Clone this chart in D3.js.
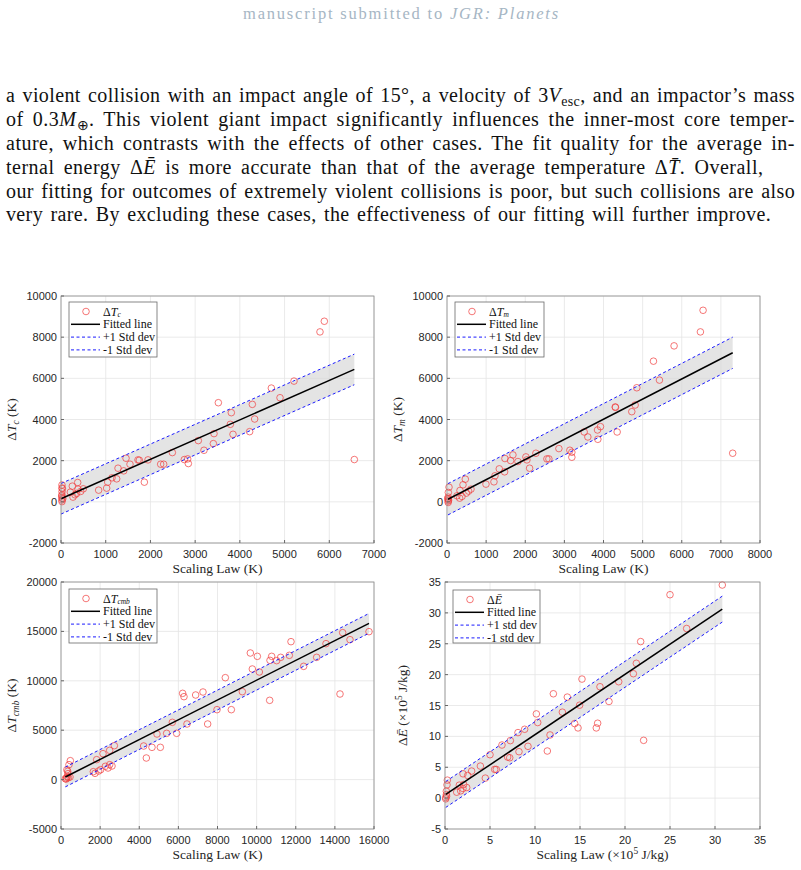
<!DOCTYPE html>
<html><head><meta charset="utf-8">
<script src="https://cdn.jsdelivr.net/npm/d3@7"></script>
<style>
html,body{margin:0;padding:0;background:#fff;}
svg{display:block;}
</style></head>
<body>
<svg id="c" width="801" height="870"></svg>
<script>
// ---------------- DATA ----------------
const tcPoints = [[5792,8256],[5889,8773],[6560,2054],[5211,5866],[4704,5526],[4898,5058],[4279,4735],[4331,4024],[4219,3410],[3519,4816],[3809,4331],[3787,3766],[3847,3281],[3422,3314],[3407,2829],[3071,2975],[3198,2506],[2758,2054],[2833,2086],[2848,1860],[2490,2393],[2229,1828],[2296,1828],[1946,2038],[1722,2038],[1752,2022],[1543,1828],[1454,2119],[1275,1634],[1402,1505],[1245,1117],[1141,1166],[1044,956],[1021,665],[842,568],[1864,956],[499,633],[440,504],[373,940],[253,762],[209,471],[268,229],[313,342],[350,407],[380,617],[22,818],[22,672],[22,494],[22,333],[22,187],[22,89],[22,10],[30,640],[15,280],[40,150]];
const tmPoints = [[6545,9306],[6477,8256],[5804,7577],[5277,6834],[5430,5914],[4851,5542],[4809,4703],[4723,4380],[4306,4590],[4300,4610],[4349,3394],[3923,3653],[3847,3491],[3855,3039],[3600,3152],[3506,3394],[3191,2409],[3191,2167],[3140,2506],[2860,2587],[2604,2086],[2553,2086],[2272,2361],[2017,2183],[2043,2038],[2111,1634],[1813,1957],[1685,2280],[1626,2005],[1481,2103],[1472,1457],[1336,1602],[1226,1263],[1200,972],[996,859],[613,617],[553,520],[468,1101],[409,827],[332,552],[383,261],[323,180],[255,293],[494,423],[51,713],[34,455],[30,132],[30,35],[30,-30],[30,229],[40,80],[20,160],[7302,2361]];
const tcmbPoints = [[15744,14973],[14398,14872],[14773,14163],[13546,13758],[11757,13961],[11672,12577],[13069,12375],[12404,11464],[11229,12375],[11024,12038],[10769,12476],[10684,12072],[10036,12476],[9678,12814],[9780,11194],[10138,10891],[8400,10317],[9269,8900],[7258,8866],[6883,8563],[6218,8731],[6287,8394],[14262,8664],[10667,8023],[7974,7078],[8707,7078],[5691,5796],[6441,5628],[7497,5628],[4907,4615],[5401,4683],[5912,4683],[4226,3401],[4651,3266],[5078,3266],[4362,2186],[2726,3435],[2488,2962],[2147,2625],[1823,2018],[1925,870],[1738,634],[1653,803],[2028,1005],[2266,1343],[2403,1174],[2488,1512],[2607,1377],[477,1916],[409,1512],[341,837],[358,600],[290,162],[221,95],[460,263],[320,300],[260,50],[380,200],[300,1000]];
const ePoints = [[30.81,34.51],[25.0,32.94],[26.85,27.47],[21.74,25.35],[21.26,21.83],[20.93,20.15],[22.07,9.36],[19.30,18.85],[17.22,18.04],[18.22,15.65],[15.22,19.28],[14.96,15.05],[13.59,16.36],[13.04,13.92],[14.41,12.07],[14.78,11.37],[16.96,12.13],[16.81,11.37],[12.04,16.90],[10.15,13.64],[10.30,12.24],[11.67,10.23],[11.37,7.63],[8.85,11.15],[8.11,10.61],[7.26,9.31],[6.33,8.60],[5.0,7.03],[9.22,8.39],[8.22,7.52],[6.96,6.65],[7.19,6.54],[3.93,5.19],[2.96,4.38],[2.0,3.94],[2.52,3.67],[4.48,3.24],[5.52,4.65],[5.70,4.65],[2.07,2.21],[2.41,1.72],[1.59,2.10],[1.30,0.96],[1.74,1.18],[2.0,1.56],[0.26,2.91],[0.22,2.15],[0.15,1.12],[0.15,0.58],[0.08,0.09],[0.08,-0.12],[0.18,0.31]];

// fitted line parameters: [intercept, slope, std, xStart, xEnd]
const tcFit = [148, 0.958, 743, 0, 6560];
const tmFit = [100, 0.978, 760, 25, 7302];
const tcmbFit = [41, 1.002, 1000, 221, 15744];
const eFit = [0.51, 0.977, 2.1, 0.08, 30.81];

const tcXTicks = [0,1000,2000,3000,4000,5000,6000,7000];
const tmXTicks = [0,1000,2000,3000,4000,5000,6000,7000,8000];
const tYTicks = [-2000,0,2000,4000,6000,8000,10000];
const tcmbXTicks = [0,2000,4000,6000,8000,10000,12000,14000,16000];
const tcmbYTicks = [-5000,0,5000,10000,15000,20000];
const eXTicks = [0,5,10,15,20,25,30,35];
const eYTicks = [-5,0,5,10,15,20,25,30,35];

const legendStd = ["+1 Std dev", "-1 Std dev"];
const legendStdLower = ["+1 std dev", "-1 std dev"];

// ---------------- DRAW ----------------
const svg = d3.select("#c");
const SERIF = "'Liberation Serif','Times New Roman',serif";
const SANS = "'Liberation Sans',Arial,Helvetica,sans-serif";

// header
const hdr = svg.append("text").attr("x", 243).attr("y", 19)
  .attr("font-family", SERIF).attr("font-size", 16.5).attr("fill", "#a6b6c4");
hdr.append("tspan").text("manuscript submitted to ");
hdr.append("tspan").attr("font-style", "italic").text("JGR: Planets");
{
  const w = hdr.node().getComputedTextLength();
  const n = hdr.text().length;
  hdr.attr("letter-spacing", ((317 - w) / n).toFixed(3) + "px");
}

// paragraph
const FS = 20;
function line(y, parts, target) {
  const t = svg.append("text").attr("x", 6).attr("y", y)
    .attr("font-family", SERIF).attr("font-size", FS).attr("fill", "#111");
  parts.forEach(p => {
    if (typeof p === "string") { t.append("tspan").text(p); return; }
    const s = t.append("tspan").text(p.t);
    if (p.i) s.attr("font-style", "italic");
    if (p.sub) s.attr("dy", 4).attr("font-size", FS * 0.7);
    if (p.back) s.attr("dy", -4);
  });
  const w = t.node().getComputedTextLength();
  const str = t.text();
  const nChars = str.length;
  const nSpaces = (str.match(/ /g) || []).length;
  const gap = target - w;
  const ls = Math.max(-0.3, Math.min(0.5, gap * 0.55 / nChars));
  const ws = (gap - ls * nChars) / Math.max(1, nSpaces);
  t.attr("letter-spacing", ls.toFixed(3) + "px").attr("word-spacing", ws.toFixed(3) + "px");
}
line(102, ["a violent collision with an impact angle of 15°, a velocity of 3", {t:"V", i:1}, {t:"esc", sub:1}, {t:", and an impactor’s mass", back:1}], 789);
line(126, ["of 0.3", {t:"M", i:1}, {t:"⊕", sub:1}, {t:". This violent giant impact significantly influences the inner-most core temper-", back:1}], 789);
line(150, ["ature, which contrasts with the effects of other cases. The fit quality for the average in-"], 789);
line(174, ["ternal energy Δ", {t:"Ē", i:1}, " is more accurate than that of the average temperature Δ", {t:"T\u0304", i:1}, ". Overall,"], 758);
line(198, ["our fitting for outcomes of extremely violent collisions is poor, but such collisions are also"], 789);
line(221, ["very rare. By excluding these cases, the effectiveness of our fitting will further improve."], 765);

function panel(cfg) {
  const {L, R, T, B, xd, yd, xt, yt, pts, fit, leg, legLabel, stdLabels, xLabel, yLabel, ylx} = cfg;
  const g = svg.append("g");
  const x = d3.scaleLinear().domain(xd).range([L, R]);
  const y = d3.scaleLinear().domain(yd).range([B, T]);
  // grid
  g.selectAll(".gx").data(xt).join("line").attr("x1", d => x(d)).attr("x2", d => x(d))
    .attr("y1", T).attr("y2", B).attr("stroke", "#e4e4e4").attr("stroke-width", 0.8);
  g.selectAll(".gy").data(yt).join("line").attr("y1", d => y(d)).attr("y2", d => y(d))
    .attr("x1", L).attr("x2", R).attr("stroke", "#e4e4e4").attr("stroke-width", 0.8);
  const [b0, m, sd, xs, xe] = fit;
  const f = v => b0 + m * v;
  const band = [xs, xe];
  g.append("path").attr("d", d3.area().x(d => x(d)).y0(d => y(f(d) - sd)).y1(d => y(f(d) + sd))(band))
    .attr("fill", "#d6d6d6").attr("fill-opacity", 0.65);
  // points
  g.selectAll(".pt").data(pts).join("circle").attr("cx", d => x(d[0])).attr("cy", d => y(d[1]))
    .attr("r", 3.3).attr("fill", "none").attr("stroke", "#f03c3c").attr("stroke-width", 0.7);
  // lines
  const ln = d3.line().x(d => x(d[0])).y(d => y(d[1]));
  g.append("path").attr("d", ln(band.map(v => [v, f(v)]))).attr("stroke", "#000").attr("stroke-width", 1.5).attr("fill", "none");
  [sd, -sd].forEach(o => {
    g.append("path").attr("d", ln(band.map(v => [v, f(v) + o]))).attr("stroke", "#1a1aff")
      .attr("stroke-width", 1).attr("stroke-dasharray", "3,2.5").attr("fill", "none");
  });
  // axes box
  g.append("rect").attr("x", L).attr("y", T).attr("width", R - L).attr("height", B - T)
    .attr("fill", "none").attr("stroke", "#8a8a8a").attr("stroke-width", 0.8);
  // ticks
  g.selectAll(".tx").data(xt).join("line").attr("x1", d => x(d)).attr("x2", d => x(d))
    .attr("y1", B).attr("y2", B - 3).attr("stroke", "#666");
  g.selectAll(".ty").data(yt).join("line").attr("y1", d => y(d)).attr("y2", d => y(d))
    .attr("x1", L).attr("x2", L + 3).attr("stroke", "#666");
  g.selectAll(".lx").data(xt).join("text").attr("x", d => x(d)).attr("y", B + 15)
    .attr("text-anchor", "middle").attr("font-family", SANS).attr("font-size", 11).attr("fill", "#262626").text(d => d);
  g.selectAll(".ly").data(yt).join("text").attr("x", L - 4).attr("y", d => y(d) + 4)
    .attr("text-anchor", "end").attr("font-family", SANS).attr("font-size", 11).attr("fill", "#262626").text(d => d);
  // axis labels
  const xl = g.append("text").attr("x", (L + R) / 2).attr("y", B + 30).attr("text-anchor", "middle")
    .attr("font-family", SERIF).attr("font-size", 13.5).attr("fill", "#262626");
  xLabel(xl);
  const yl = g.append("text").attr("transform", `translate(${ylx},${(T + B) / 2}) rotate(-90)`)
    .attr("text-anchor", "middle").attr("font-family", SERIF).attr("font-size", 13.5).attr("fill", "#262626");
  yLabel(yl);
  // legend
  const [lx, ly, lw, lh] = leg;
  g.append("rect").attr("x", lx).attr("y", ly).attr("width", lw).attr("height", lh)
    .attr("fill", "#fff").attr("stroke", "#6a6a6a").attr("stroke-width", 0.8);
  const rowY = i => ly + 9.5 + i * 12.8;
  g.append("circle").attr("cx", lx + 17).attr("cy", rowY(0)).attr("r", 3.3).attr("fill", "none")
    .attr("stroke", "#f03c3c").attr("stroke-width", 0.7);
  g.append("line").attr("x1", lx + 2).attr("x2", lx + 31).attr("y1", rowY(1)).attr("y2", rowY(1))
    .attr("stroke", "#000").attr("stroke-width", 1.5);
  [2, 3].forEach(i => g.append("line").attr("x1", lx + 2).attr("x2", lx + 31).attr("y1", rowY(i)).attr("y2", rowY(i))
    .attr("stroke", "#1a1aff").attr("stroke-width", 1).attr("stroke-dasharray", "3,2.5"));
  const lt = (i) => g.append("text").attr("x", lx + 34).attr("y", rowY(i) + 4)
    .attr("font-family", SERIF).attr("font-size", 12).attr("fill", "#111");
  legLabel(lt(0), true);
  lt(1).text("Fitted line");
  lt(2).text(stdLabels[0]);
  lt(3).text(stdLabels[1]);
}

function deltaSub(sym, sub) {
  return (t, small) => {
    t.append("tspan").text("Δ");
    t.append("tspan").attr("font-style", "italic").text(sym);
    if (sub) t.append("tspan").attr("font-style", "italic").attr("font-size", small ? "0.62em" : "0.7em")
      .attr("dy", small ? 1.5 : 2.5).text(sub);
  };
}

panel({L:61, R:374, T:296, B:543, xd:[0,7000], yd:[-2000,10000], xt:tcXTicks, yt:tYTicks,
  pts:tcPoints, fit:tcFit, leg:[69,302,88,55], stdLabels:legendStd, ylx:16,
  legLabel: deltaSub("T", "c"),
  xLabel: t => t.text("Scaling Law (K)"),
  yLabel: t => { deltaSub("T", "c")(t); t.append("tspan").attr("dy", -2.5).text(" (K)"); }});

panel({L:447, R:760, T:296, B:543, xd:[0,8000], yd:[-2000,10000], xt:tmXTicks, yt:tYTicks,
  pts:tmPoints, fit:tmFit, leg:[455,302,89,55], stdLabels:legendStd, ylx:402,
  legLabel: deltaSub("T", "m"),
  xLabel: t => t.text("Scaling Law (K)"),
  yLabel: t => { deltaSub("T", "m")(t); t.append("tspan").attr("dy", -2.5).text(" (K)"); }});

panel({L:61, R:374, T:582, B:829, xd:[0,16000], yd:[-5000,20000], xt:tcmbXTicks, yt:tcmbYTicks,
  pts:tcmbPoints, fit:tcmbFit, leg:[69,589,88,54], stdLabels:legendStd, ylx:16,
  legLabel: deltaSub("T", "cmb"),
  xLabel: t => t.text("Scaling Law (K)"),
  yLabel: t => { deltaSub("T", "cmb")(t); t.append("tspan").attr("dy", -2.5).text(" (K)"); }});

panel({L:445, R:760, T:582, B:829, xd:[0,35], yd:[-5,35], xt:eXTicks, yt:eYTicks,
  pts:ePoints, fit:eFit, leg:[453,590,87,53], stdLabels:legendStdLower, ylx:407,
  legLabel: deltaSub("Ē", null),
  xLabel: t => { t.append("tspan").text("Scaling Law (×10"); t.append("tspan").attr("font-size","0.7em").attr("dy",-5).text("5");
                 t.append("tspan").attr("dy",5).text(" J/kg)"); },
  yLabel: t => { deltaSub("Ē", null)(t); t.append("tspan").text(" (×10"); t.append("tspan").attr("font-size","0.7em").attr("dy",-5).text("5");
                 t.append("tspan").attr("dy",5).text(" J/kg)"); }});
</script>
</body></html>
